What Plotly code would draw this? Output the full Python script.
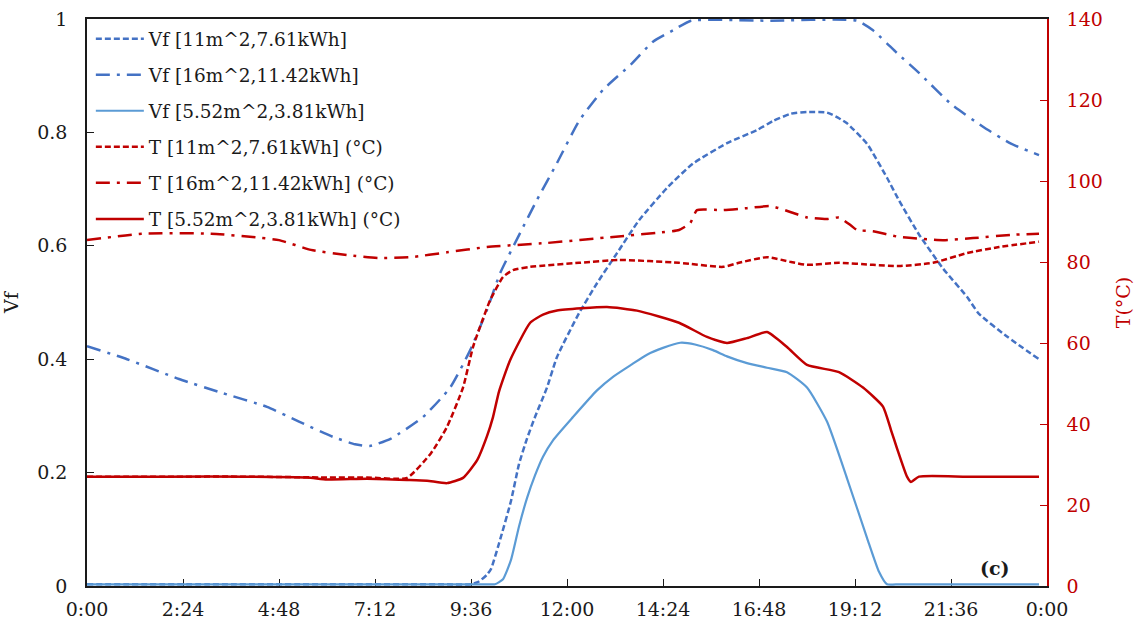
import plotly.graph_objects as go

# Time of day in hours, tick positions every 2 h 24 min
tick_hours = [0, 2.4, 4.8, 7.2, 9.6, 12.0, 14.4, 16.8, 19.2, 21.6, 24.0]
tick_labels = ["0:00", "2:24", "4:48", "7:12", "9:36", "12:00", "14:24", "16:48", "19:12", "21:36", "0:00"]

# Vf, 11 m^2 / 7.61 kWh
vf11_h = [0, 3.0, 6.0, 9.0, 9.6, 9.8, 10.0, 10.1, 10.3, 10.6, 10.8, 11.0, 11.2, 11.5, 11.75, 12.3,
          12.75, 13.25, 13.8, 14.5, 15.15, 16.0, 16.75, 17.15, 17.6, 18.0, 18.5, 18.8, 19.0, 19.5,
          20.0, 20.3, 20.8, 21.4, 22.0, 22.3, 23.0, 23.8]
vf11_v = [0.003, 0.003, 0.003, 0.003, 0.003, 0.008, 0.02, 0.03, 0.075, 0.15, 0.215, 0.26, 0.298,
          0.35, 0.404, 0.481, 0.534, 0.587, 0.645, 0.702, 0.745, 0.781, 0.804, 0.82, 0.833, 0.836,
          0.835, 0.825, 0.816, 0.78, 0.72, 0.68, 0.62, 0.56, 0.51, 0.48, 0.44, 0.40]

# Vf, 16 m^2 / 11.42 kWh
vf16_h = [0, 1.0, 2.3, 3.4, 4.5, 5.3, 6.15, 6.7, 7.07, 7.6, 8.4, 9.08, 9.58, 10.0, 10.33, 10.83,
          11.25, 11.75, 12.3, 12.9, 13.6, 14.15, 14.65, 15.1, 17.0, 19.25, 19.65, 20.25, 20.8,
          21.6, 22.4, 23.1, 23.8]
vf16_v = [0.423, 0.40, 0.365, 0.34, 0.316, 0.29, 0.263, 0.25, 0.247, 0.26, 0.298, 0.35, 0.416,
          0.487, 0.552, 0.623, 0.681, 0.746, 0.82, 0.875, 0.92, 0.96, 0.98, 0.997, 0.997, 0.997,
          0.98, 0.94, 0.905, 0.85, 0.81, 0.78, 0.76]

# Vf, 5.52 m^2 / 3.81 kWh
vf5_h = [0, 3.0, 6.0, 9.0, 10.0, 10.2, 10.4, 10.6, 10.8, 11.0, 11.2, 11.4, 11.65, 12.15,
         12.75, 13.15, 13.6, 14.0, 14.4, 14.83, 15.2, 15.65, 16.0, 16.5, 17.0, 17.5, 18.0, 18.5,
         19.0, 19.5, 19.8, 20.0, 20.3, 21.0, 22.0, 23.0, 23.8]
vf5_v = [0.003, 0.003, 0.003, 0.003, 0.003, 0.003, 0.012, 0.046, 0.105, 0.155, 0.195, 0.228,
         0.257, 0.298, 0.345, 0.369, 0.39, 0.408, 0.42, 0.429, 0.426, 0.416, 0.405, 0.393,
         0.385, 0.377, 0.35, 0.29, 0.19, 0.085, 0.025, 0.003, 0.003, 0.003, 0.003, 0.003, 0.003]

# Temperature (°C), 11 m^2 / 7.61 kWh
t11_h = [0, 2.0, 4.0, 6.0, 7.0, 8.0, 8.6, 9.0, 9.4, 9.65, 9.9, 10.08, 10.4, 10.65, 11.08, 12.3,
         13.3, 14.8, 15.9, 16.3, 17.0, 17.6, 18.0, 18.8, 19.65, 20.3, 21.15, 22.0, 22.8, 23.8]
t11_v = [27, 27, 27, 26.8, 26.8, 26.7, 32.8, 39.3, 49, 59, 66, 70.6, 76.3, 78, 78.8, 79.8, 80.5,
         79.8, 78.8, 79.8, 81.2, 80, 79.3, 79.8, 79.3, 79, 79.8, 82.2, 83.7, 85]

# Temperature (°C), 16 m^2 / 11.42 kWh
t16_h = [0, 1.4, 3.1, 4.3, 4.8, 5.6, 6.5, 7.3, 8.1, 9.0, 10.0, 11.5, 13.15, 14.25, 14.8, 15.08,
         15.25, 15.9, 16.5, 17.1, 17.6, 18.0, 18.5, 18.8, 19.1, 19.25, 19.65, 20.3, 21.4, 22.15,
         23.1, 23.8]
t16_v = [85.4, 87, 87, 86, 85.4, 83, 81.7, 81, 81.2, 82.4, 83.7, 84.7, 86.2, 87.2, 87.9, 89.6,
         92.8, 92.8, 93.3, 93.8, 92.3, 91, 90.6, 91, 89, 87.9, 87.6, 86.2, 85.4, 85.9, 86.7, 87]

# Temperature (°C), 5.52 m^2 / 3.81 kWh
t5_h = [0, 2.0, 4.0, 5.5, 6.0, 7.0, 8.0, 8.5, 9.0, 9.4, 9.75, 10.0, 10.15, 10.3, 10.58, 11.08,
        11.4, 11.75, 13.0, 13.75, 14.8, 15.5, 16.0, 16.5, 17.0, 17.5, 18.0, 18.8, 19.4, 19.9,
        20.1, 20.25, 20.5, 20.6, 20.8, 22.0, 23.8]
t5_v = [27, 27, 27, 26.8, 26.3, 26.5, 26.2, 26, 25.4, 26.7, 31, 37, 41.7, 48, 55.8, 65, 67, 68,
        68.9, 68, 65, 61.5, 60, 61.2, 62.7, 59, 54.6, 52.8, 49, 44.3, 38.5, 34, 27, 25.7, 27, 27, 27]

BLUE = "#4472C4"
LIGHT_BLUE = "#5B9BD5"
RED = "#C00000"
INK = "#1a1a1a"
FONT = "DejaVu Serif"

fig = go.Figure()

series = [
    (vf11_h, vf11_v, "Vf [11m^2,7.61kWh]", BLUE, "6px,3px", 2.5, "y"),
    (vf16_h, vf16_v, "Vf [16m^2,11.42kWh]", BLUE, "14px,7px,3px,7px", 2.5, "y"),
    (vf5_h, vf5_v, "Vf [5.52m^2,3.81kWh]", LIGHT_BLUE, "solid", 2.2, "y"),
    (t11_h, t11_v, "T [11m^2,7.61kWh] (°C)", RED, "6px,3px", 2.5, "y2"),
    (t16_h, t16_v, "T [16m^2,11.42kWh] (°C)", RED, "14px,7px,3px,7px", 2.5, "y2"),
    (t5_h, t5_v, "T [5.52m^2,3.81kWh] (°C)", RED, "solid", 2.5, "y2"),
]

for i, (xs, ys, name, color, dash, width, yax) in enumerate(series):
    fig.add_trace(go.Scatter(
        x=xs, y=ys, name=name, mode="lines", yaxis=yax,
        legendgroup=f"g{i}",
        line=dict(color=color, dash=dash, width=width, shape="spline", smoothing=0.5),
    ))

fig.add_annotation(
    x=0.9635, y=0.008, xref="paper", yref="paper", xanchor="right", yanchor="bottom",
    text="<b>(c)</b>", showarrow=False, font=dict(family=FONT, size=19, color=INK),
)

fig.update_layout(
    width=1144, height=628,
    margin=dict(l=87, r=97, t=19, b=42),
    paper_bgcolor="white", plot_bgcolor="white",
    font=dict(family=FONT, size=19, color=INK),
    showlegend=True,
    legend=dict(
        x=0.004, y=0.998, xanchor="left", yanchor="top",
        bgcolor="rgba(255,255,255,0)", borderwidth=0,
        font=dict(family=FONT, size=18.5, color=INK),
        tracegroupgap=9, traceorder="grouped", itemwidth=48,
    ),
    xaxis=dict(
        range=[0, 24], tickmode="array", tickvals=tick_hours, ticktext=tick_labels,
        showline=True, linecolor=INK, linewidth=1.5, mirror=True,
        ticks="inside", ticklen=7, tickcolor=INK, showgrid=False, zeroline=False,
        ticklabelstandoff=5, automargin=False, layer="below traces",
    ),
    yaxis=dict(
        range=[0, 1], tickvals=[0, 0.2, 0.4, 0.6, 0.8, 1.0],
        ticktext=["0", "0.2", "0.4", "0.6", "0.8", "1"],
        showline=True, linecolor=INK, linewidth=1.5,
        ticks="inside", ticklen=7, tickcolor=INK, showgrid=False, zeroline=False,
        title=dict(text="Vf", font=dict(family=FONT, size=19), standoff=23),
        ticklabelstandoff=14, automargin=False, layer="below traces",
    ),
    yaxis2=dict(
        range=[0, 140], tickvals=list(range(0, 141, 20)), overlaying="y", side="right",
        showline=True, linecolor=RED, linewidth=1.5,
        ticks="inside", ticklen=7, tickcolor=RED, showgrid=False, zeroline=False,
        tickfont=dict(color=RED, family=FONT, size=19),
        title=dict(text="T(°C)", font=dict(family=FONT, size=19, color=RED), standoff=15),
        ticklabelstandoff=14, automargin=False,
    ),
)

fig.write_html("out.html")
